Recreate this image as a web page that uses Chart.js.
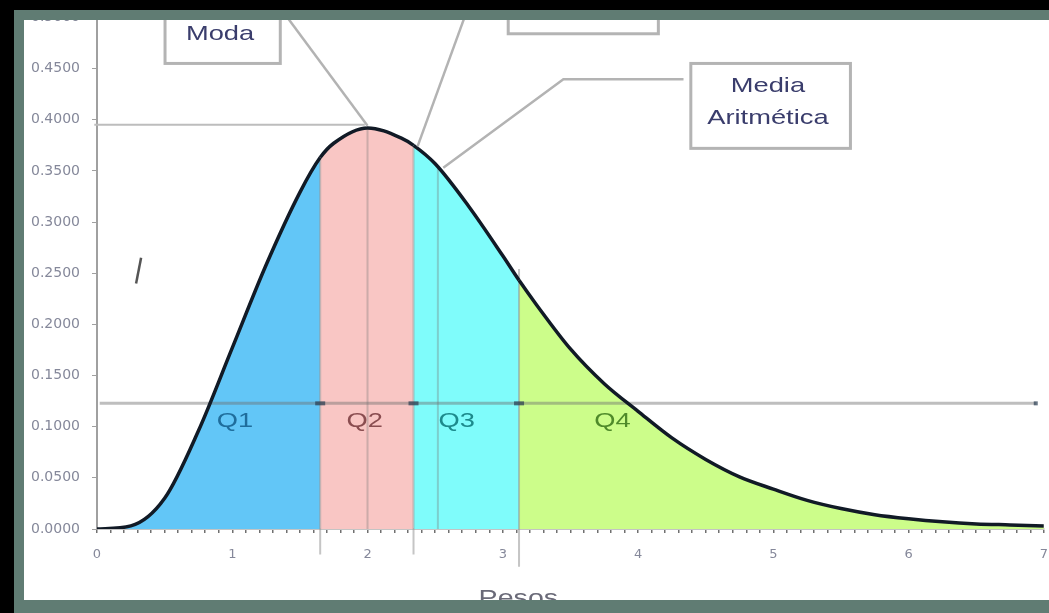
<!DOCTYPE html>
<html>
<head>
<meta charset="utf-8">
<script src="https://cdn.jsdelivr.net/npm/chart.js@4.4.1/dist/chart.umd.min.js"></script>
<style>
  html, body { margin: 0; padding: 0; background: #fff; }
  #wrap { position: relative; width: 1049px; height: 613px; overflow: hidden; }
  #wrap canvas { display: block; margin-top: -3px; }
  .edge { position: absolute; }
</style>
</head>
<body>
<div id="wrap">
  <canvas id="curva" width="1062" height="616"></canvas>
  <div class="edge" style="left:0;top:0;width:1049px;height:10px;background:#000"></div>
  <div class="edge" style="left:14px;top:10px;width:1035px;height:10px;background:#607c73"></div>
  <div class="edge" style="left:0;top:0;width:14px;height:613px;background:#000"></div>
  <div class="edge" style="left:14px;top:10px;width:10px;height:603px;background:#607c73"></div>
  <div class="edge" style="left:14px;top:600px;width:1035px;height:13px;background:#607c73"></div>
</div>
<script>
// valores
const pesos = [0, 0.25, 0.5, 0.75, 1.0, 1.25, 1.5, 1.65, 1.75, 2.0, 2.25, 2.34, 2.5, 2.75, 3.0, 3.12,
  3.25, 3.5, 3.75, 4.0, 4.25, 4.5, 4.75, 5.0, 5.25, 5.5, 5.75, 6.0, 6.25, 6.5, 6.75, 7.0];
const densidad = [0, 0.003, 0.030, 0.096, 0.177, 0.258, 0.329, 0.363, 0.377, 0.392, 0.382, 0.375, 0.357, 0.315, 0.267, 0.243,
  0.219, 0.176, 0.142, 0.115, 0.089, 0.068, 0.051, 0.039, 0.028, 0.020, 0.014, 0.010, 0.007, 0.005, 0.004, 0.003];
const cuartiles = [1.65, 2.34, 3.12];
const cuartilNombres = ['Q1', 'Q2', 'Q3', 'Q4'];
const moda = 2.0;
const mediaAritmetica = 2.52;
const xTicks = [0, 1, 2, 3, 4, 5, 6, 7];
const yTicks = [0, 0.05, 0.1, 0.15, 0.2, 0.25, 0.3, 0.35, 0.4, 0.45, 0.5];

const colores = ['#62c6f7', '#f9c6c4', '#7ffcfb', '#ccfd8a'];
const coloresTexto = ['#1f6d9c', '#8a4d50', '#1d8a8c', '#4f8a2a'];

function zona(x) {
  let i = 0;
  while (i < cuartiles.length && x >= cuartiles[i] - 1e-9) i++;
  return i;
}

function linea(ctx, pts) {
  ctx.beginPath();
  ctx.moveTo(pts[0][0], pts[0][1]);
  for (let i = 1; i < pts.length; i++) ctx.lineTo(pts[i][0], pts[i][1]);
  ctx.stroke();
}

function texto(ctx, t, x, y, color, size) {
  ctx.save();
  ctx.translate(x, y);
  ctx.scale(1.3, 1);
  ctx.font = (size || 21) + 'px "Liberation Sans", Arial, sans-serif';
  ctx.fillStyle = color;
  ctx.textAlign = 'center';
  ctx.textBaseline = 'middle';
  ctx.fillText(t, 0, 0);
  ctx.restore();
}

const extras = {
  id: 'extras',
  beforeDatasetsDraw(chart) {
    const {ctx, scales: {x, y}} = chart;
    const P = (a, b) => [x.getPixelForValue(a), y.getPixelForValue(b)];
    ctx.save();
    // linea horizontal a la altura de la moda
    ctx.strokeStyle = '#bdbdbd';
    ctx.lineWidth = 2;
    linea(ctx, [P(-0.02, 0.395), P(1.98, 0.395)]);
    // verticales
    ctx.strokeStyle = 'rgba(120,120,120,0.35)';
    linea(ctx, [P(moda, 0), P(moda, 0.391)]);
    linea(ctx, [P(mediaAritmetica, 0), P(mediaAritmetica, 0.352)]);
    ctx.strokeStyle = 'rgba(150,150,150,0.55)';
    linea(ctx, [P(cuartiles[0], -0.025), P(cuartiles[0], 0.361)]);
    linea(ctx, [P(cuartiles[1], -0.025), P(cuartiles[1], 0.373)]);
    linea(ctx, [P(cuartiles[2], -0.037), P(cuartiles[2], 0.254)]);
    // linea de cuartiles
    ctx.strokeStyle = 'rgba(110,110,110,0.45)';
    ctx.lineWidth = 3;
    linea(ctx, [P(0.02, 0.1228), P(6.94, 0.1228)]);
    ctx.fillStyle = 'rgba(40,60,80,0.7)';
    for (const q of cuartiles) {
      const [qx, qy] = P(q, 0.1228);
      ctx.fillRect(qx - 5, qy - 2, 10, 4);
    }
    const [ex, ey] = P(6.94, 0.1228);
    ctx.fillRect(ex - 2, ey - 2, 4, 4);
    ctx.restore();
  },
  afterDatasetsDraw(chart) {
    const {ctx, scales: {x, y}} = chart;
    const P = (a, b) => [x.getPixelForValue(a), y.getPixelForValue(b)];
    ctx.save();
    // etiquetas de cuartiles
    const qx = [1.02, 1.98, 2.66, 3.81];
    cuartilNombres.forEach((n, i) => {
      const [tx, ty] = P(qx[i], 0.105);
      texto(ctx, n, tx, ty, coloresTexto[i]);
    });
    // marca suelta
    ctx.strokeStyle = '#555';
    ctx.lineWidth = 2.5;
    linea(ctx, [P(0.326, 0.265), P(0.289, 0.240)]);
    // lineas de llamada
    ctx.strokeStyle = '#b3b3b3';
    ctx.lineWidth = 2.5;
    linea(ctx, [P(1.32, 0.5156), P(moda, 0.394)]);
    linea(ctx, [P(2.76, 0.5156), P(2.37, 0.374)]);
    linea(ctx, [P(4.336, 0.4396), P(3.448, 0.4396), P(2.56, 0.353)]);
    // cajas
    const caja = (x0, y0, x1, y1) => {
      const [a, b] = P(x0, y0), [c, d] = P(x1, y1);
      ctx.fillStyle = '#fff';
      ctx.fillRect(a, b, c - a, d - b);
      ctx.strokeStyle = '#b4b4b4';
      ctx.lineWidth = 3;
      ctx.strokeRect(a, b, c - a, d - b);
    };
    caja(0.503, 0.54, 1.355, 0.455);
    caja(3.04, 0.54, 4.15, 0.484);
    caja(4.39, 0.455, 5.57, 0.372);
    const navy = '#3a3d6c';
    let [tx, ty] = P(0.91, 0.484);
    texto(ctx, 'Moda', tx, ty, navy);
    [tx, ty] = P(4.96, 0.433);
    texto(ctx, 'Media', tx, ty, navy);
    [tx, ty] = P(4.96, 0.4015);
    texto(ctx, 'Aritmética', tx, ty, navy);
    // titulo del eje x
    [tx, ty] = P(3.115, 0);
    texto(ctx, 'Pesos', tx, ty + 70, '#6a6a78', 22);
    ctx.restore();
  }
};

new Chart(document.getElementById('curva'), {
  type: 'line',
  data: {
    datasets: [{
      data: pesos.map((p, i) => ({x: p, y: densidad[i]})),
      borderColor: '#111a26',
      borderWidth: 3.5,
      pointRadius: 0,
      cubicInterpolationMode: 'monotone',
      fill: 'origin',
      backgroundColor: colores[0],
      segment: {
        backgroundColor: c => colores[zona(c.p0.parsed.x)]
      }
    }]
  },
  options: {
    responsive: false,
    animation: false,
    events: [],
    layout: {padding: {top: 6, right: 6, left: 0, bottom: 0}},
    plugins: {
      legend: {display: false},
      tooltip: {enabled: false},
      filler: {drawTime: 'beforeDatasetsDraw'}
    },
    scales: {
      x: {
        type: 'linear',
        min: 0,
        max: 7,
        afterBuildTicks: s => {
          const t = [];
          for (let i = 0; i <= 70; i++) t.push({value: i / 10});
          s.ticks = t;
        },
        afterFit: s => { s.height = 84; },
        ticks: {
          autoSkip: false,
          maxRotation: 0,
          padding: 14,
          color: '#85889a',
          font: {family: '"DejaVu Sans"', size: 13},
          callback: v => {
            const r = Math.round(v);
            return Math.abs(v - r) < 1e-6 && xTicks.includes(r) ? String(r) : '';
          }
        },
        grid: {drawOnChartArea: false, drawTicks: true, tickLength: 4, color: '#707070', lineWidth: 1.5},
        border: {display: true, color: '#c4c4c4', width: 2}
      },
      y: {
        min: 0,
        max: 0.5,
        afterBuildTicks: s => { s.ticks = yTicks.map(v => ({value: v})); },
        afterFit: s => { s.width = 97; },
        ticks: {
          padding: 12,
          color: '#85889a',
          font: {family: '"DejaVu Sans"', size: 14},
          callback: v => v.toFixed(4)
        },
        grid: {drawOnChartArea: false, drawTicks: true, tickLength: 5, color: '#a0a0a0'},
        border: {display: true, color: '#a0a0a0', width: 2}
      }
    }
  },
  plugins: [extras]
});
</script>
</body>
</html>
